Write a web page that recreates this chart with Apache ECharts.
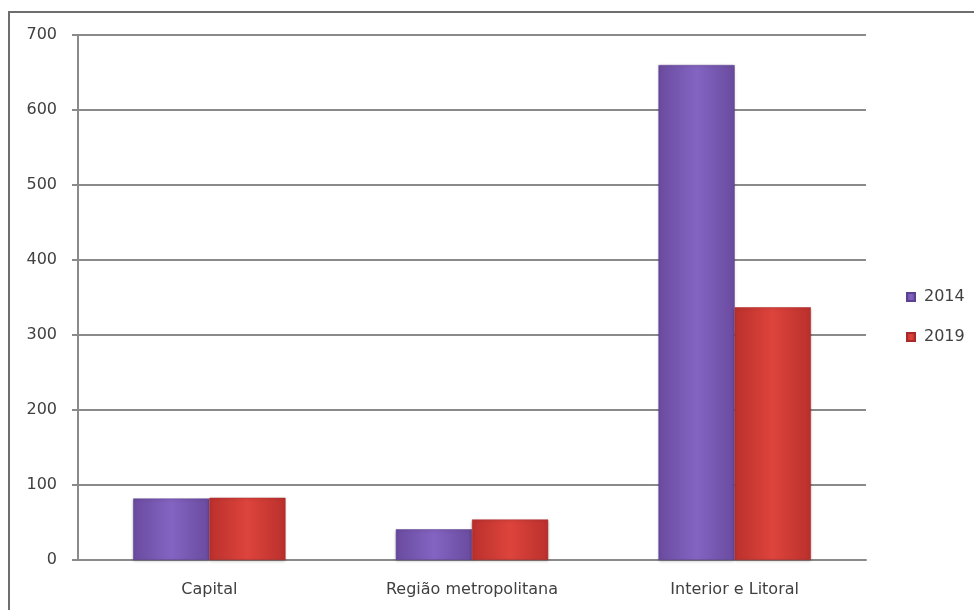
<!DOCTYPE html>
<html>
<head>
<meta charset="utf-8">
<script src="https://cdn.jsdelivr.net/npm/echarts@6/dist/echarts.min.js"></script>
<style>
html, body { margin: 0; padding: 0; background: #fff; }
#chart { width: 974px; height: 610px; }
</style>
</head>
<body>
<div id="chart"></div>
<script>
var categories = ["Capital", "Região metropolitana", "Interior e Litoral"];
var years = ["2014", "2019"];
var values2014 = [82, 41, 660];
var values2019 = [83, 54, 337];

var dom = document.getElementById("chart"), myChart = echarts.init(dom);

function barFill(edge, mid) {
    return new echarts.graphic.LinearGradient(0, 0, 1, 0, [
        { offset: 0, color: edge },
        { offset: 0.5, color: mid },
        { offset: 1, color: edge }
    ]);
}

var axisColor = "#8a8a8a";
var textStyle = { color: "#404040", fontFamily: "DejaVu Sans", fontSize: 16 };

var option = {
    animation: false,
    graphic: [{
        type: "rect",
        shape: { x: 9, y: 12, width: 1000, height: 700 },
        style: { fill: "none", stroke: "#6e6e6e", lineWidth: 2 },
        silent: true
    }],
    grid: { left: 78, right: 108, top: 35, bottom: 50 },
    legend: {
        orient: "vertical",
        left: 901,
        top: 284,
        itemWidth: 8,
        itemHeight: 8,
        itemGap: 24,
        icon: "rect",
        textStyle: { color: "#404040", fontFamily: "DejaVu Sans", fontSize: 16, padding: [0, 0, 0, 4] },
        data: years
    },
    xAxis: {
        type: "category",
        data: categories,
        axisLine: { lineStyle: { color: axisColor, width: 2 } },
        axisTick: { length: 5, lineStyle: { color: axisColor, width: 2 } },
        axisLabel: Object.assign({ margin: 22 }, textStyle)
    },
    yAxis: {
        type: "value",
        min: 0,
        max: 700,
        interval: 100,
        axisLine: { show: true, lineStyle: { color: axisColor, width: 2 } },
        axisTick: { show: true, length: 6, lineStyle: { color: axisColor, width: 2 } },
        splitLine: { lineStyle: { color: axisColor, width: 2 } },
        axisLabel: Object.assign({ margin: 21 }, textStyle)
    },
    series: [{
        name: years[0],
        type: "bar",
        data: values2014,
        barGap: "0%",
        barCategoryGap: "42%",
        itemStyle: {
            color: barFill("#6a4b9f", "#8364c2"),
            borderColor: "#5c4190",
            borderWidth: 0.5,
            shadowColor: "rgba(0,0,0,0.25)",
            shadowBlur: 3,
            shadowOffsetY: 1
        }
    }, {
        name: years[1],
        type: "bar",
        data: values2019,
        itemStyle: {
            color: barFill("#bb302c", "#dd443c"),
            borderColor: "#a8292a",
            borderWidth: 0.5,
            shadowColor: "rgba(0,0,0,0.25)",
            shadowBlur: 3,
            shadowOffsetY: 1
        }
    }],
    color: ["#7c5cb8", "#d23d37"]
};
myChart.setOption(option, true);
</script>
</body>
</html>
